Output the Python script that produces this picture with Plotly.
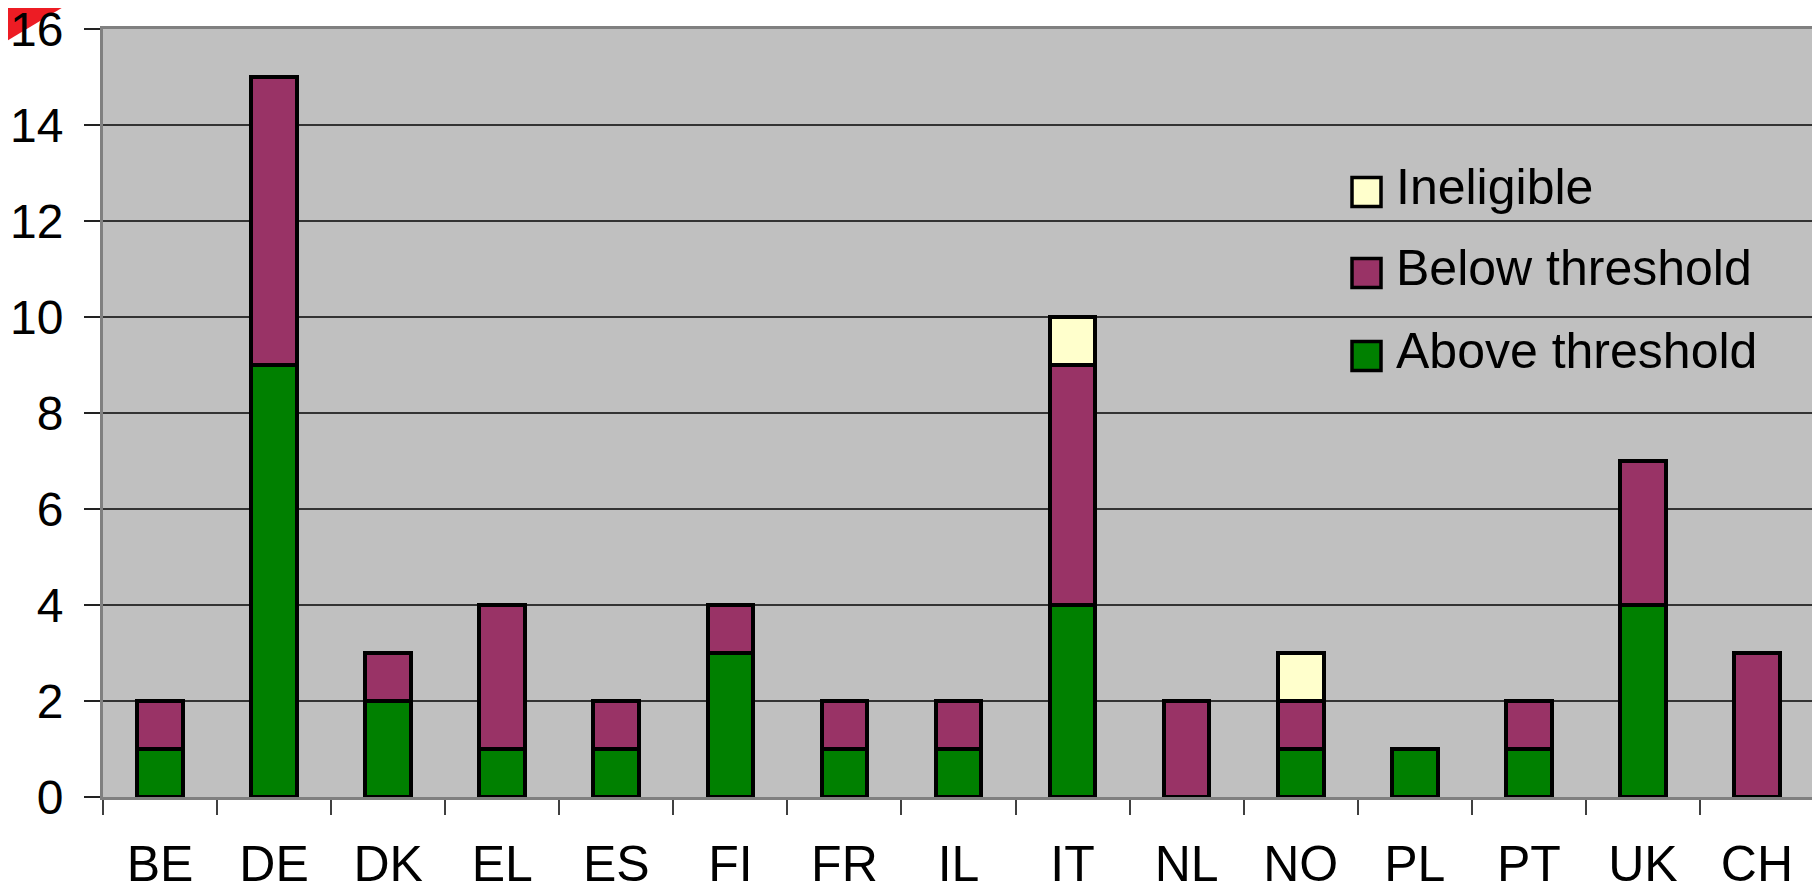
import plotly.graph_objects as go

countries = ["BE", "DE", "DK", "EL", "ES", "FI", "FR", "IL", "IT", "NL", "NO", "PL", "PT", "UK", "CH"]
above = [1, 9, 2, 1, 1, 3, 1, 1, 4, 0, 1, 1, 1, 4, 0]
below = [1, 6, 1, 3, 1, 1, 1, 1, 5, 2, 1, 0, 1, 3, 3]
ineligible = [0, 0, 0, 0, 0, 0, 0, 0, 1, 0, 1, 0, 0, 0, 0]
y_ticks = [0, 2, 4, 6, 8, 10, 12, 14, 16]

series = [
    ("Above threshold", above, "#008000"),
    ("Below threshold", below, "#993366"),
    ("Ineligible", ineligible, "#FFFFCC"),
]

# page body has an 8px default margin; compensate so the plot lands where the reference has it
OFF = 8
WIN_W, WIN_H = 1820, 893
W, H = WIN_W - OFF, WIN_H - OFF
# plot area in window pixels: x 103..1814, y 29..797
PX0, PX1, PY0, PY1 = 103, 1814, 29, 797
PW, PH = PX1 - PX0, PY1 - PY0
L, T = PX0 - OFF, PY0 - OFF
R = W - L - PW
B = H - T - PH

def px(x):
    return (x - PX0) / PW

def py(y):
    return (PY1 - y) / PH

fig = go.Figure()
for name, vals, color in series:
    fig.add_trace(go.Bar(
        x=countries,
        y=[v if v else None for v in vals],
        name=name,
        marker=dict(color=color, line=dict(color="black", width=4)),
        showlegend=False,
    ))

shapes = []
annotations = []
legend_rows = [series[2], series[1], series[0]]
row_centers = [192, 273, 356]
for (name, _, color), cy in zip(legend_rows, row_centers):
    shapes.append(dict(type="rect", xref="paper", yref="paper",
                       x0=px(1352), x1=px(1381), y0=py(cy + 14.5), y1=py(cy - 14.5),
                       fillcolor=color, line=dict(color="black", width=3.5), layer="above"))
    annotations.append(dict(xref="paper", yref="paper", x=px(1394), y=py(cy - 5),
                            xanchor="left", yanchor="middle", text=name, showarrow=False,
                            font=dict(size=50, color="black", family="Liberation Sans, Arial, sans-serif")))

# red corner triangle (clipped by the page edge like in the reference)
shapes.append(dict(type="path", xref="paper", yref="paper",
                   path=f"M {px(0)} {py(0)} L {px(75)} {py(0)} L {px(0)} {py(45)} Z",
                   fillcolor="#ED1C24", line=dict(width=0), layer="below"))

fig.update_layout(
    width=W, height=H,
    margin=dict(l=L, r=R, t=T, b=B, pad=0),
    barmode="stack",
    bargap=0.6,
    plot_bgcolor="#C0C0C0",
    paper_bgcolor="white",
    font=dict(family="Liberation Sans, Arial, sans-serif", size=50, color="black"),
    shapes=shapes,
    annotations=annotations,
    showlegend=False,
)
fig.update_xaxes(
    type="category",
    automargin=False,
    showgrid=False,
    showline=True, linecolor="#808080", linewidth=3, mirror=True,
    ticks="outside", tickson="boundaries", ticklen=15, tickwidth=2, tickcolor="#404040",
    tickfont=dict(size=50),
    ticklabelstandoff=21,
    ticklabeloverflow="allow",
)
fig.update_yaxes(
    automargin=False,
    range=[0, 16],
    tickvals=y_ticks,
    showgrid=True, gridcolor="#333333", gridwidth=1.5,
    showline=True, linecolor="#808080", linewidth=3, mirror=True,
    ticks="outside", ticklen=16, tickwidth=2, tickcolor="#222222",
    tickfont=dict(size=48),
    ticklabelstandoff=11,
    ticklabeloverflow="allow",
    zeroline=False,
)

fig.write_html("out.html")
